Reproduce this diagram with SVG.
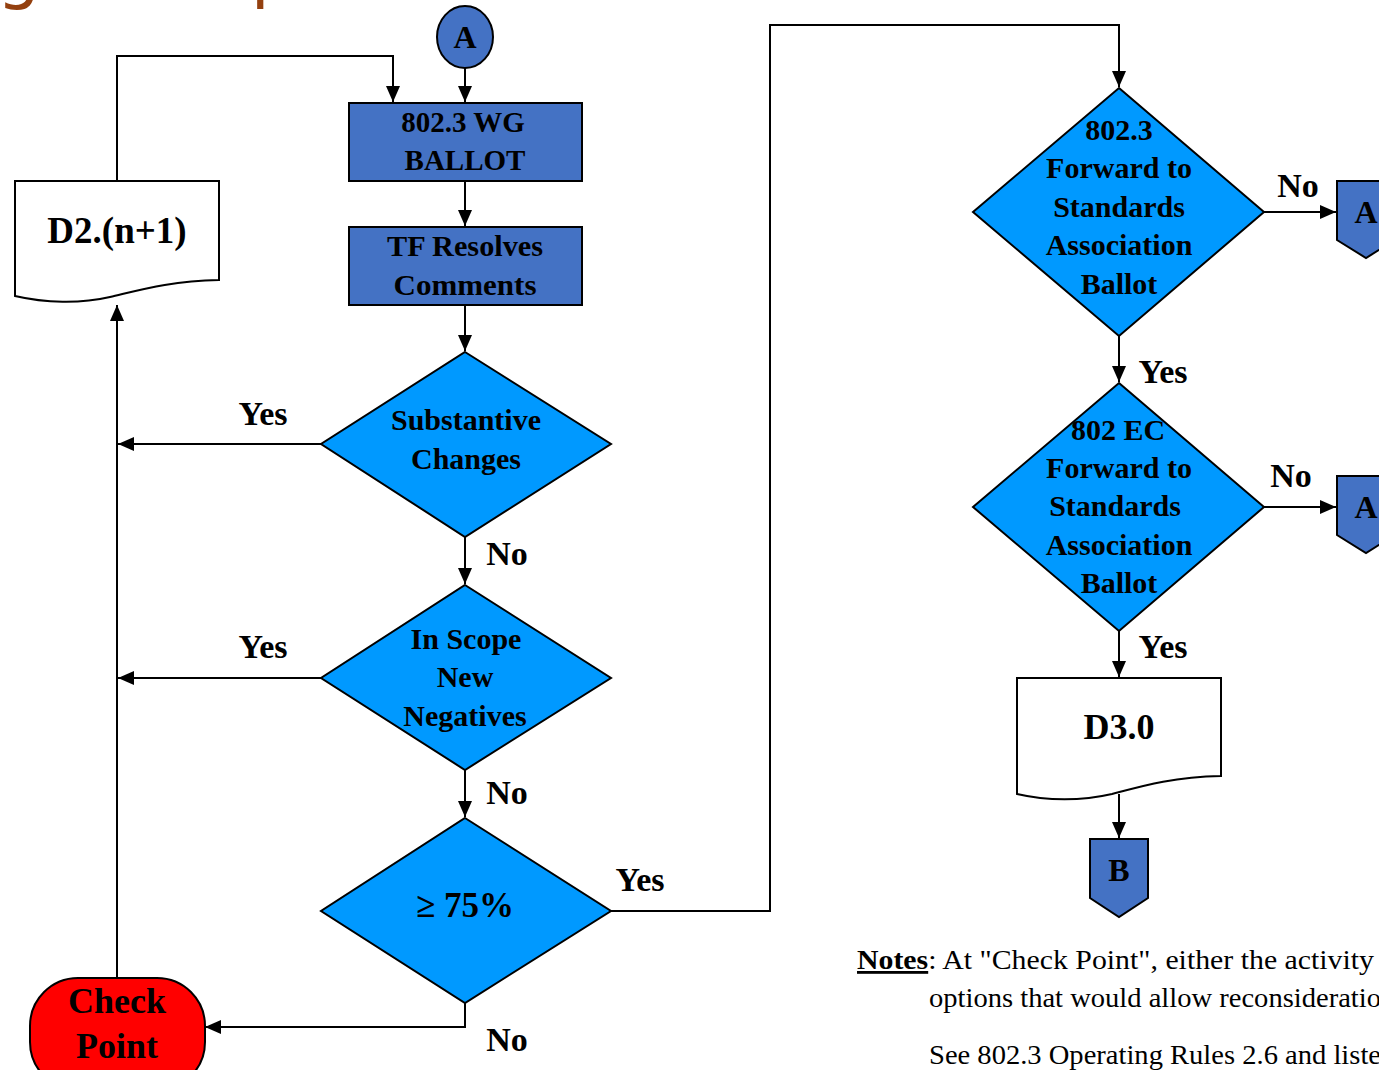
<svg xmlns="http://www.w3.org/2000/svg" width="1379" height="1070" viewBox="0 0 1379 1070">
<style>
.box{fill:#4472C4;stroke:#000;stroke-width:2}
.dia{fill:#0099FF;stroke:#000;stroke-width:2}
.doc{fill:#fff;stroke:#000;stroke-width:2}
.red{fill:#FF0000;stroke:#000;stroke-width:2}
.t{font-family:"Liberation Serif","Times New Roman",serif;font-weight:bold;fill:#000;text-anchor:middle}
.s29{font-size:29px}
.s30{font-size:30px}
.s32{font-size:32px}
.s36{font-size:36px}
.lbl{font-family:"Liberation Serif","Times New Roman",serif;font-weight:bold;font-size:34px;fill:#000;text-anchor:middle}
.note{font-family:"Liberation Serif","Times New Roman",serif;font-size:28px;fill:#000}
.title{font-family:"DejaVu Sans",sans-serif;font-size:68px;fill:#94400F}
.ln{fill:none;stroke:#000;stroke-width:2}
</style>
<defs>
<marker id="arr" markerUnits="userSpaceOnUse" markerWidth="16" markerHeight="14" viewBox="0 0 16 14" refX="16" refY="7" orient="auto">
<path d="M0,0 L16,7 L0,14 Z" fill="#000"/>
</marker>
</defs>

<g id="title">
<text class="title" x="-3" y="-4">g</text>
<text class="title" x="251" y="-5">p</text>
</g>

<g id="connectors">
<line class="ln" x1="465" y1="68" x2="465" y2="102" marker-end="url(#arr)"/>
<polyline class="ln" points="117,181 117,56 393,56 393,102" marker-end="url(#arr)"/>
<line class="ln" x1="465" y1="181" x2="465" y2="226" marker-end="url(#arr)"/>
<line class="ln" x1="465" y1="305" x2="465" y2="351" marker-end="url(#arr)"/>
<line class="ln" x1="465" y1="537" x2="465" y2="584" marker-end="url(#arr)"/>
<line class="ln" x1="465" y1="770" x2="465" y2="817" marker-end="url(#arr)"/>
<line class="ln" x1="321" y1="444" x2="118" y2="444" marker-end="url(#arr)"/>
<line class="ln" x1="321" y1="678" x2="118" y2="678" marker-end="url(#arr)"/>
<line class="ln" x1="117" y1="978" x2="117" y2="305" marker-end="url(#arr)"/>
<polyline class="ln" points="465,1003 465,1027 205,1027" marker-end="url(#arr)"/>
<polyline class="ln" points="611,911 770,911 770,25 1119,25 1119,87" marker-end="url(#arr)"/>
<line class="ln" x1="1119" y1="336" x2="1119" y2="382" marker-end="url(#arr)"/>
<line class="ln" x1="1119" y1="631" x2="1119" y2="677" marker-end="url(#arr)"/>
<line class="ln" x1="1264" y1="212" x2="1336" y2="212" marker-end="url(#arr)"/>
<line class="ln" x1="1264" y1="507" x2="1336" y2="507" marker-end="url(#arr)"/>
<line class="ln" x1="1119" y1="794" x2="1119" y2="838" marker-end="url(#arr)"/>
</g>

<g id="labels">
<text class="lbl" x="263" y="425">Yes</text>
<text class="lbl" x="263" y="658">Yes</text>
<text class="lbl" x="507" y="565">No</text>
<text class="lbl" x="507" y="804">No</text>
<text class="lbl" x="507" y="1051">No</text>
<text class="lbl" x="640" y="891">Yes</text>
<text class="lbl" x="1163" y="383">Yes</text>
<text class="lbl" x="1163" y="658">Yes</text>
<text class="lbl" x="1298" y="197">No</text>
<text class="lbl" x="1291" y="487">No</text>
</g>

<g id="nodeA">
<ellipse class="box" cx="465" cy="37" rx="28" ry="31"/>
<text class="t s32" x="465" y="48">A</text>
</g>

<g id="wgBallot">
<rect class="box" x="349" y="103" width="233" height="78"/>
<text class="t s29" x="463" y="132">802.3 WG</text>
<text class="t s29" x="465" y="170">BALLOT</text>
</g>

<g id="tfResolves">
<rect class="box" x="349" y="227" width="233" height="78"/>
<text class="t s29" x="465" y="256" textLength="156" lengthAdjust="spacingAndGlyphs">TF Resolves</text>
<text class="t s29" x="465" y="295" textLength="143" lengthAdjust="spacingAndGlyphs">Comments</text>
</g>

<g id="substantive">
<polygon class="dia" points="465,352 611,444 465,537 321,444"/>
<text class="t s30" x="466" y="430">Substantive</text>
<text class="t s30" x="466" y="469">Changes</text>
</g>

<g id="inScope">
<polygon class="dia" points="465,585 611,678 465,770 321,678"/>
<text class="t s30" x="466" y="649">In Scope</text>
<text class="t s30" x="465" y="687">New</text>
<text class="t s30" x="465" y="726">Negatives</text>
</g>

<g id="pct75">
<polygon class="dia" points="465,818 611,911 465,1003 321,911"/>
<text class="t" style="font-size:35px" x="465" y="917">≥ 75%</text>
</g>

<g id="checkPoint">
<rect class="red" x="30" y="978" width="175" height="112" rx="48" ry="48"/>
<text class="t s36" x="117" y="1013">Check</text>
<text class="t s36" x="117" y="1058">Point</text>
</g>

<g id="d2">
<path class="doc" d="M15,181 H219 V280 C170,281 140,290 110,297 C80,304 45,303 15,296 Z"/>
<text class="t" style="font-size:37px" x="117" y="243">D2.(n+1)</text>
</g>

<g id="fwd8023">
<polygon class="dia" points="1119,88 1264,212 1119,336 973,212"/>
<text class="t s30" x="1119" y="140">802.3</text>
<text class="t s30" x="1119" y="178">Forward to</text>
<text class="t s30" x="1119" y="217">Standards</text>
<text class="t s30" x="1119" y="255">Association</text>
<text class="t s30" x="1119" y="294">Ballot</text>
</g>

<g id="fwd802ec">
<polygon class="dia" points="1119,383 1264,507 1119,631 973,507"/>
<text class="t s30" x="1118" y="440">802 EC</text>
<text class="t s30" x="1119" y="478">Forward to</text>
<text class="t s30" x="1115" y="516">Standards</text>
<text class="t s30" x="1119" y="555">Association</text>
<text class="t s30" x="1119" y="593">Ballot</text>
</g>

<g id="offA1">
<polygon class="box" points="1337,181 1395,181 1395,240 1366,258 1337,240"/>
<text class="t s32" x="1366" y="223">A</text>
</g>

<g id="offA2">
<polygon class="box" points="1337,476 1395,476 1395,535 1366,553 1337,535"/>
<text class="t s32" x="1366" y="518">A</text>
</g>

<g id="d3">
<path class="doc" d="M1017,678 H1221 V776 C1172,777 1142,786 1112,794 C1082,801 1047,801 1017,794 Z"/>
<text class="t s36" x="1119" y="739">D3.0</text>
</g>

<g id="offB">
<polygon class="box" points="1090,839 1148,839 1148,898 1119,917 1090,898"/>
<text class="t s32" x="1119" y="881">B</text>
</g>

<g id="notes">
<text class="note" x="857" y="969" textLength="517" lengthAdjust="spacingAndGlyphs"><tspan font-weight="bold" text-decoration="underline">Notes</tspan>: At "Check Point", either the activity</text>
<text class="note" x="929" y="1007" textLength="452" lengthAdjust="spacingAndGlyphs">options that would allow reconsideratio</text>
<text class="note" x="929" y="1064" textLength="452" lengthAdjust="spacingAndGlyphs">See 802.3 Operating Rules 2.6 and liste</text>
</g>
</svg>
